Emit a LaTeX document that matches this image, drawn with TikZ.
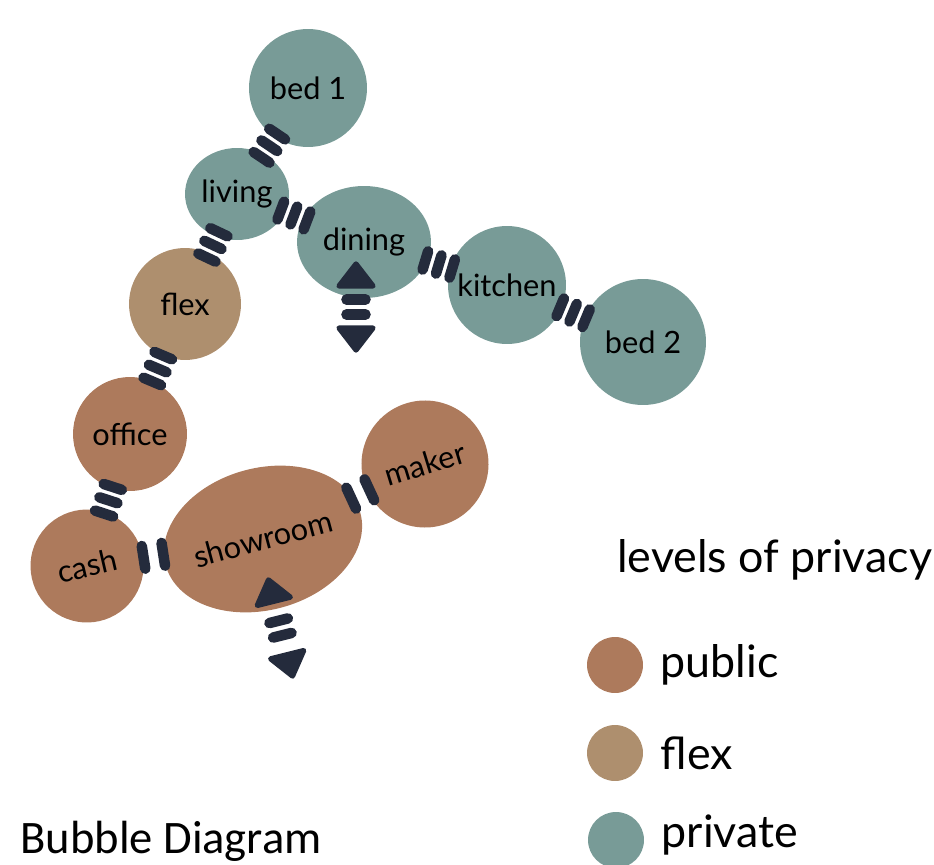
\documentclass[tikz,border=0pt]{standalone}
\usepackage{fontspec}
\setmainfont{Lato}
\newfontfamily\titlefont{Carlito}
\definecolor{privategreen}{HTML}{789B97}
\definecolor{publicbrown}{HTML}{AD7A5C}
\definecolor{flextan}{HTML}{AE8F6E}
\definecolor{barink}{HTML}{242B3C}
\usepackage{tikz}
\usetikzlibrary{shapes.geometric,decorations.markings,positioning}

\tikzset{
  room/.style={circle, inner sep=0pt, font=\fontsize{17.5}{20}\selectfont},
  oval/.style={ellipse, inner sep=0pt, font=\fontsize{17.5}{20}\selectfont},
  bar/.style={draw=barink, line width=6pt, line cap=round},
  tip/.style={fill=barink, draw=barink, line width=3pt, line join=round},
  triple link/.style={decorate, decoration={markings, mark=at position .5 with {
      \foreach \off in {-14,0,14} \draw[bar] (\off,-9.5) -- (\off,9.5);}}},
  double link/.style={decorate, decoration={markings, mark=at position .5 with {
      \foreach \off in {-10,10} \draw[bar] (\off,-11.5) -- (\off,11.5);}}},
  updown/.style={decorate, decoration={markings,
      mark=at position 0 with {\path[tip] (2,0) -- (24,17) -- (24,-17) -- cycle;},
      mark=at position .5 with {\foreach \off in {-7.5,7.5} \draw[bar] (\off,-9.5) -- (\off,9.5);},
      mark=at position 1 with {\path[tip] (-2,0) -- (-24,17) -- (-24,-17) -- cycle;}}},
  key/.style={circle, minimum size=1.12cm, inner sep=0pt},
  keytext/.style={inner sep=0pt, font=\fontsize{25.5}{30}\selectfont}
}

\begin{document}
\begin{tikzpicture}[x=0.02cm, y=0.02cm]
  \useasboundingbox (0,0) rectangle (934,-865);

  % private rooms
  \node[room, fill=privategreen, minimum size=2.36cm] (bed1) at (308,-88) {bed 1};
  \node[oval, fill=privategreen, minimum width=2.08cm, minimum height=1.84cm] (living) at (237,-194) {living};
  \node[oval, fill=privategreen, minimum width=2.68cm, minimum height=2.24cm] (dining) at (364,-242) {dining};
  \node[room, fill=privategreen, minimum size=2.36cm] (kitchen) at (507,-285) {kitchen};
  \node[room, fill=privategreen, minimum size=2.52cm] (bed2) at (643,-342) {bed 2};
  % flex + public rooms
  \node[room, fill=flextan, minimum size=2.24cm] (flex) at (185,-304) {flex};
  \node[room, fill=publicbrown, minimum size=2.28cm] (office) at (130,-434) {office};
  \node[room, fill=publicbrown, minimum size=2.26cm, rotate=13] (cash) at (87,-566) {cash};
  \node[oval, fill=publicbrown, minimum width=3.8cm, minimum height=2.84cm, rotate=15] (showroom) at (263,-539) {showroom};
  \node[room, fill=publicbrown, minimum size=2.54cm, rotate=17] (maker) at (425,-464) {maker};

  % adjacencies
  \path[triple link] (bed1) -- (living);
  \path[triple link] (living) -- (dining);
  \path[triple link] (living) -- (flex);
  \path[triple link] (dining) -- (kitchen);
  \path[triple link] (kitchen) -- (bed2);
  \path[triple link] (flex) -- (office);
  \path[triple link] (office) -- (cash);
  \path[double link] (cash) -- (showroom);
  \path[double link] (showroom) -- (maker);

  % stairs
  \coordinate (diningUp) at (356,-262);
  \coordinate (diningDown) at (356,-352);
  \path[updown] (diningUp) -- (diningDown);
  \coordinate (showUp) at (268,-578);
  \coordinate (showDown) at (293,-678);
  \path[updown] (showUp) -- (showDown);

  % legend
  \node[keytext, anchor=base west] (keyTitle) at (617,-572) {levels of privacy};
  \node[key, fill=publicbrown] (keyPublic) at (615,-665) {};
  \node[keytext, right=0.34cm of keyPublic] (keyPublicText) {public};
  \node[key, fill=flextan] (keyFlex) at (615,-753) {};
  \node[keytext, right=0.34cm of keyFlex] (keyFlexText) {flex};
  \node[key, fill=privategreen] (keyPrivate) at (616,-840) {};
  \node[keytext, right=0.34cm of keyPrivate, yshift=3pt] (keyPrivateText) {private};

  \node[anchor=base west, inner sep=0pt, font=\titlefont\fontsize{26.5}{30}\selectfont] (title) at (20,-853) {Bubble Diagram};
\end{tikzpicture}
\end{document}
